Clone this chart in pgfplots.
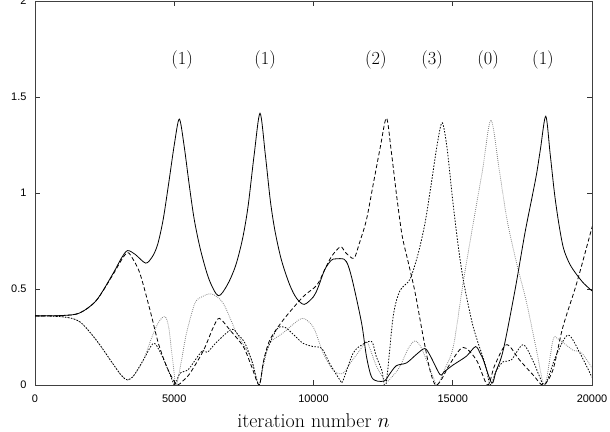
\documentclass[border=0pt]{standalone}
\usepackage{fontspec}
\usepackage{pgfplots}
\pgfplotsset{compat=1.18}
\newfontfamily\helv{Liberation Sans}
\begin{document}
\begin{tikzpicture}
\begin{axis}[
  scale only axis, width=557bp, height=384bp,
  xmin=0, xmax=20000, ymin=0, ymax=2,
  xtick={0,5000,10000,15000,20000},
  ytick={0,0.5,1,1.5,2},
  scaled x ticks=false,
  /pgf/number format/fixed,
  /pgf/number format/1000 sep={},
  /pgf/number format/assume math mode=true,
  xticklabel style={yshift=-6bp},
  yticklabel style={xshift=-5bp},
  tick label style={font=\helv\fontsize{11}{13}\selectfont},
  tick align=inside, major tick length=5bp,
  tick style={black!80, line width=0.6bp},
  axis line style={black!75, line width=0.8bp},
  xlabel={iteration number $n$},
  xlabel style={font=\fontsize{20}{23}\selectfont, at={(axis description cs:0.5,0)}, anchor=base, yshift=-42bp},
  every axis plot/.append style={smooth, tension=0.5, no marks, line width=0.8bp},
]
\coordinate (sw) at (rel axis cs:0,0);
\coordinate (ne) at (rel axis cs:1,1);
% gray dotted (0)
\addplot[black!50, dash pattern=on 0.8bp off 1.2bp] coordinates {
(0,0.36) (1000,0.355) (1600,0.33) (2200,0.234) (2800,0.11) (3100,0.05) (3320,0.026) (3550,0.05) (3890,0.13) (4200,0.25) (4450,0.33) (4670,0.356) (4800,0.30) (4950,0.12) (5070,0.0) (5250,0.12) (5440,0.27) (5740,0.425) (6000,0.46) (6350,0.474) (6760,0.425) (7240,0.27) (7720,0.15) (7900,0.06) (8050,0.0) (8200,0.10) (8430,0.217) (8900,0.27) (9300,0.32) (9630,0.347) (10000,0.30) (10350,0.165) (10700,0.078) (11050,0.06) (11350,0.12) (11660,0.18) (11900,0.226) (12050,0.18) (12270,0.095) (12600,0.02) (12800,0.04) (13100,0.095) (13400,0.19) (13640,0.23) (13850,0.20) (14000,0.15) (14290,0.043) (14450,0.0) (14700,0.08) (15020,0.20) (15370,0.53) (15720,0.83) (16070,1.12) (16370,1.38) (16670,1.12) (16950,0.86) (17300,0.63) (17650,0.43) (18010,0.18) (18300,0.0) (18600,0.234) (18780,0.24) (19330,0.18) (19610,0.17) (19980,0.095) (20000,0.09)
};
% short dashed (3)
\addplot[black, dash pattern=on 1.5bp off 1.5bp] coordinates {
(0,0.36) (1000,0.355) (1600,0.33) (2200,0.234) (2800,0.11) (3100,0.05) (3320,0.026) (3550,0.05) (3890,0.13) (4250,0.217) (4500,0.17) (4730,0.095) (4900,0.036) (5020,0.0) (5200,0.06) (5500,0.08) (5800,0.14) (6030,0.18) (6190,0.17) (6500,0.22) (7060,0.29) (7300,0.26) (7530,0.22) (7800,0.12) (8050,0.0) (8250,0.15) (8680,0.29) (8980,0.30) (9300,0.26) (9630,0.217) (9990,0.20) (10300,0.19) (10590,0.11) (10950,0.026) (11050,0.02) (11420,0.165) (11750,0.21) (12090,0.226) (12250,0.15) (12450,0.078) (12600,0.0) (12860,0.356) (13100,0.49) (13460,0.55) (13750,0.68) (14000,0.84) (14220,1.04) (14450,1.26) (14620,1.366) (14790,1.24) (15000,0.96) (15200,0.72) (15400,0.53) (15740,0.30) (16160,0.11) (16350,0.0) (16550,0.07) (16800,0.12) (17100,0.13) (17530,0.21) (17900,0.12) (18100,0.05) (18320,0.0) (18700,0.15) (19140,0.26) (19570,0.165) (20000,0.04)
};
% long dashed (2)
\addplot[black, dash pattern=on 4bp off 2.5bp] coordinates {
(0,0.36) (1000,0.362) (1600,0.375) (2200,0.44) (2800,0.575) (3100,0.65) (3320,0.69) (3500,0.66) (3770,0.58) (4130,0.39) (4430,0.217) (4730,0.095) (4970,0.026) (5120,0.0) (5300,0.02) (5560,0.06) (6050,0.18) (6400,0.30) (6620,0.347) (7000,0.286) (7480,0.20) (7780,0.095) (8050,0.0) (8200,0.12) (8430,0.234) (8920,0.34) (9630,0.46) (10120,0.52) (10400,0.60) (10650,0.67) (10970,0.72) (11150,0.69) (11450,0.66) (11650,0.74) (11900,0.86) (12150,1.05) (12400,1.24) (12620,1.39) (12790,1.22) (12990,0.98) (13180,0.78) (13400,0.64) (13650,0.48) (13940,0.25) (14180,0.078) (14380,0.0) (14600,0.03) (14900,0.11) (15370,0.196) (15850,0.13) (16250,0.0) (16500,0.10) (16930,0.21) (17400,0.13) (17900,0.05) (18250,0.0) (18600,0.08) (18950,0.30) (19450,0.53) (19980,0.81) (20000,0.815)
};
% solid (1)
\addplot[black] coordinates {
(0,0.36) (1000,0.362) (1600,0.375) (2200,0.44) (2800,0.58) (3100,0.66) (3320,0.70) (3600,0.68) (3970,0.635) (4200,0.665) (4400,0.73) (4600,0.86) (4800,1.05) (5000,1.25) (5180,1.385) (5350,1.25) (5540,1.04) (5720,0.86) (5950,0.70) (6250,0.55) (6580,0.465) (6900,0.52) (7200,0.62) (7450,0.76) (7650,0.93) (7870,1.20) (8080,1.415) (8270,1.20) (8450,0.96) (8620,0.80) (8850,0.65) (9150,0.52) (9400,0.45) (9670,0.42) (10000,0.46) (10170,0.51) (10400,0.60) (10640,0.65) (10800,0.657) (11100,0.655) (11250,0.62) (11420,0.53) (11730,0.32) (11900,0.15) (12080,0.043) (12300,0.02) (12560,0.022) (12700,0.05) (12970,0.10) (13340,0.115) (13700,0.16) (14000,0.19) (14200,0.15) (14540,0.055) (14700,0.07) (15010,0.104) (15490,0.15) (15820,0.20) (16000,0.16) (16100,0.13) (16400,0.01) (16550,0.07) (16810,0.18) (17230,0.49) (17590,0.79) (17850,0.98) (18010,1.10) (18150,1.23) (18340,1.40) (18500,1.20) (18660,0.99) (18820,0.83) (18980,0.71) (19200,0.63) (19450,0.575) (19700,0.53) (20000,0.49)
};
\begin{scope}[font=\fontsize{18.5}{22}\selectfont]
\node at (axis cs:5280,1.693) {(1)};
\node at (axis cs:8260,1.693) {(1)};
\node at (axis cs:12240,1.693) {(2)};
\node at (axis cs:14260,1.693) {(3)};
\node at (axis cs:16270,1.693) {(0)};
\node at (axis cs:18240,1.693) {(1)};
\end{scope}
\end{axis}
\pgfresetboundingbox
\path[use as bounding box] ([xshift=-35bp,yshift=-47bp]sw) rectangle ([xshift=18bp,yshift=1bp]ne);
\end{tikzpicture}
\end{document}
